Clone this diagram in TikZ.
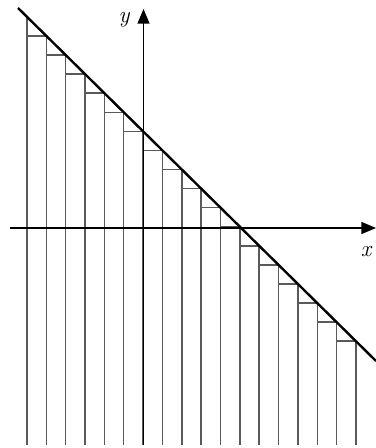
\documentclass[tikz,border=0pt]{standalone}
\usepackage{tikz}
\usetikzlibrary{arrows.meta}
\definecolor{Grid}{HTML}{5A5A5A}

\begin{document}
\begin{tikzpicture}[
 x=0.75pt,y=-0.75pt,
 g/.style={draw=Grid,line width=1.1pt},
 ax/.style={-{Triangle[length=11pt,width=9pt]},line width=1pt,draw=black},
 lbl/.style={font=\itshape\LARGE,inner sep=0pt}
]
\useasboundingbox (0,0) rectangle (375,448);
% strips under the line f(x)=8+0.986(x-18)
\foreach \i in {0,...,17}{
 \pgfmathsetmacro{\xa}{27+19.35*\i}
 \pgfmathsetmacro{\ya}{8+0.986*(\xa-18)}
 \draw[g] (\xa,\ya) -- (\xa,445);
}
\foreach \i in {0,...,16}{
 \pgfmathsetmacro{\xa}{27+19.35*\i}
 \pgfmathsetmacro{\xb}{27+19.35*(\i+1)}
 \pgfmathsetmacro{\yb}{8+0.986*(\xb-18)}
 \draw[g] (\xa,\yb) -- (\xb,\yb);
}
% axes
\coordinate (xs) at (10,228);
\coordinate (xe) at (376,228);
\coordinate (ys) at (143.5,445);
\coordinate (ye) at (143.5,9);
\draw[ax] (xs) -- (xe);
\draw[ax] (ys) -- (ye);
\node[lbl] (ylab) at (124,20) {y};
\node[lbl] (xlab) at (366,252) {x};
% the line
\coordinate (la) at (18,8);
\coordinate (lb) at (376,361);
\draw[line width=1.8pt] (la) -- (lb);
\end{tikzpicture}
\end{document}
